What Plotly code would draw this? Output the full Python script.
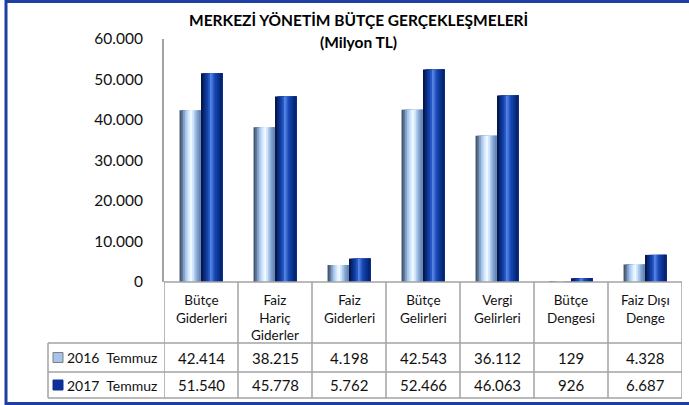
import plotly.graph_objects as go

# ---- data ----
categories = ["Bütçe\nGiderleri", "Faiz\nHariç\nGiderler", "Faiz\nGiderleri",
              "Bütçe\nGelirleri", "Vergi\nGelirleri", "Bütçe\nDengesi", "Faiz Dışı\nDenge"]
series_names = ["2016  Temmuz", "2017  Temmuz"]
values_2016 = [42414, 38215, 4198, 42543, 36112, 129, 4328]
values_2017 = [51540, 45778, 5762, 52466, 46063, 926, 6687]
y_ticks = [0, 10000, 20000, 30000, 40000, 50000, 60000]
title_lines = ["MERKEZİ YÖNETİM BÜTÇE GERÇEKLEŞMELERİ", "(Milyon TL)"]

# ---- style ----
W, H = 689, 405
L, R, T, B = 164, 7, 39, 123
PW, PH = W - L - R, H - T - B
FONT = "Lato"
GRID = "#a3a3a3"

light_grad = ["#44566f", "#62799a", "#86a2c8", "#a6c3ea", "#c2dbf8", "#def0ff",
              "#f0f9ff", "#d2e6fb", "#aecaee", "#8eaed9", "#7896c4", "#6888b6"]
dark_grad = ["#051648", "#0a2670", "#0e348e", "#1343aa", "#2657c4", "#5583e2",
             "#3a6ad2", "#1b4bb8", "#1140a4", "#0c3692", "#092d82", "#072573"]

def ypx(py):
    return (T + PH - py) / PH

def xpx(px):
    return (px - L) / PW

x_idx = list(range(len(categories)))
fig = go.Figure()

bar_w = 0.29
for vals, grad, base in [(values_2016, light_grad, -bar_w), (values_2017, dark_grad, 0.0)]:
    n = len(grad)
    sw = bar_w / n
    for k, c in enumerate(grad):
        fig.add_trace(go.Bar(
            x=x_idx, y=vals,
            width=[(n - k) * sw] * len(vals),
            offset=[base + k * sw] * len(vals),
            marker=dict(color=c, line=dict(width=0)),
            showlegend=False, hoverinfo="skip"))

shapes = []
annotations = []

# table lines
row_tops = [282, 343, 372, 398]
y_hdr_top, y_hdr_bot, y_r1_bot, y_r2_bot = [ypx(v) for v in row_tops]
x_left_rows = xpx(48)
line = dict(color=GRID, width=1.5)
shapes.append(dict(type="line", xref="x", yref="paper", x0=-0.5, x1=len(categories) - 0.5,
                   y0=y_hdr_top, y1=y_hdr_top, line=line))
for yy in [y_hdr_bot, y_r1_bot, y_r2_bot]:
    shapes.append(dict(type="line", xref="paper", yref="paper", x0=x_left_rows, x1=1,
                       y0=yy, y1=yy, line=line))
for i in range(len(categories) + 1):
    shapes.append(dict(type="line", xref="x", yref="paper", x0=i - 0.5, x1=i - 0.5,
                       y0=y_hdr_top, y1=y_r2_bot, line=line))
shapes.append(dict(type="line", xref="paper", yref="paper", x0=x_left_rows, x1=x_left_rows,
                   y0=y_hdr_bot, y1=y_r2_bot, line=line))

# category labels
for i, cat in enumerate(categories):
    annotations.append(dict(x=i, y=ypx(290), xref="x", yref="paper",
                            text="<br>".join(cat.split("\n")), showarrow=False,
                            xanchor="center", yanchor="top", align="center",
                            font=dict(family=FONT, size=13.5, color="#111")))

# data rows
row_centers = [ypx(357.5), ypx(385)]
legend_fill = ["#a6c3ea", "#0d2f96"]
legend_line = ["#7f7f7f", "#0d2f96"]
for r, (name, vals) in enumerate(zip(series_names, [values_2016, values_2017])):
    yc = row_centers[r]
    shapes.append(dict(type="rect", xref="paper", yref="paper",
                       x0=xpx(53), x1=xpx(63), y0=yc - 5 / PH, y1=yc + 5 / PH,
                       fillcolor=legend_fill[r], line=dict(color=legend_line[r], width=1)))
    annotations.append(dict(x=xpx(65), y=yc, xref="paper", yref="paper",
                            text=name.replace("  ", "&nbsp; "),
                            showarrow=False, xanchor="left", yanchor="middle",
                            font=dict(family=FONT, size=14, color="#111")))
    for i, v in enumerate(vals):
        annotations.append(dict(x=i, y=yc, xref="x", yref="paper",
                                text=f"{v:,}".replace(",", "."), showarrow=False,
                                xanchor="center", yanchor="middle",
                                font=dict(family=FONT, size=15, color="#111")))

# title
for j, t in enumerate(title_lines):
    annotations.append(dict(x=xpx(358), y=ypx(20 + j * 22), xref="paper", yref="paper",
                            text=f"<b>{t}</b>", showarrow=False, xanchor="center", yanchor="middle",
                            font=dict(family=FONT, size=15.5, color="#000")))

# outer frame
shapes.append(dict(type="rect", xref="paper", yref="paper",
                   x0=xpx(6), x1=xpx(700), y0=ypx(1.5), y1=ypx(403.5),
                   line=dict(color="#1f3fa3", width=3), fillcolor="rgba(0,0,0,0)"))

fig.update_layout(
    width=W, height=H,
    margin=dict(l=L, r=R, t=T, b=B, pad=0),
    paper_bgcolor="white", plot_bgcolor="white",
    barmode="overlay",
    separators=",.",
    showlegend=False,
    xaxis=dict(range=[-0.5, len(categories) - 0.5], showticklabels=False, showgrid=False,
               zeroline=False, showline=False, fixedrange=True),
    yaxis=dict(range=[0, 60000], tickvals=y_ticks, tickformat=",d", showgrid=False,
               zeroline=False, showline=True, linecolor=GRID, linewidth=2,
               ticks="", ticklabelstandoff=16,
               tickfont=dict(family=FONT, size=15.5, color="#111"), fixedrange=True),
    shapes=shapes, annotations=annotations,
)

fig.write_html("out.html", config={"displayModeBar": False},
               post_script="document.body.style.margin='0px';")
